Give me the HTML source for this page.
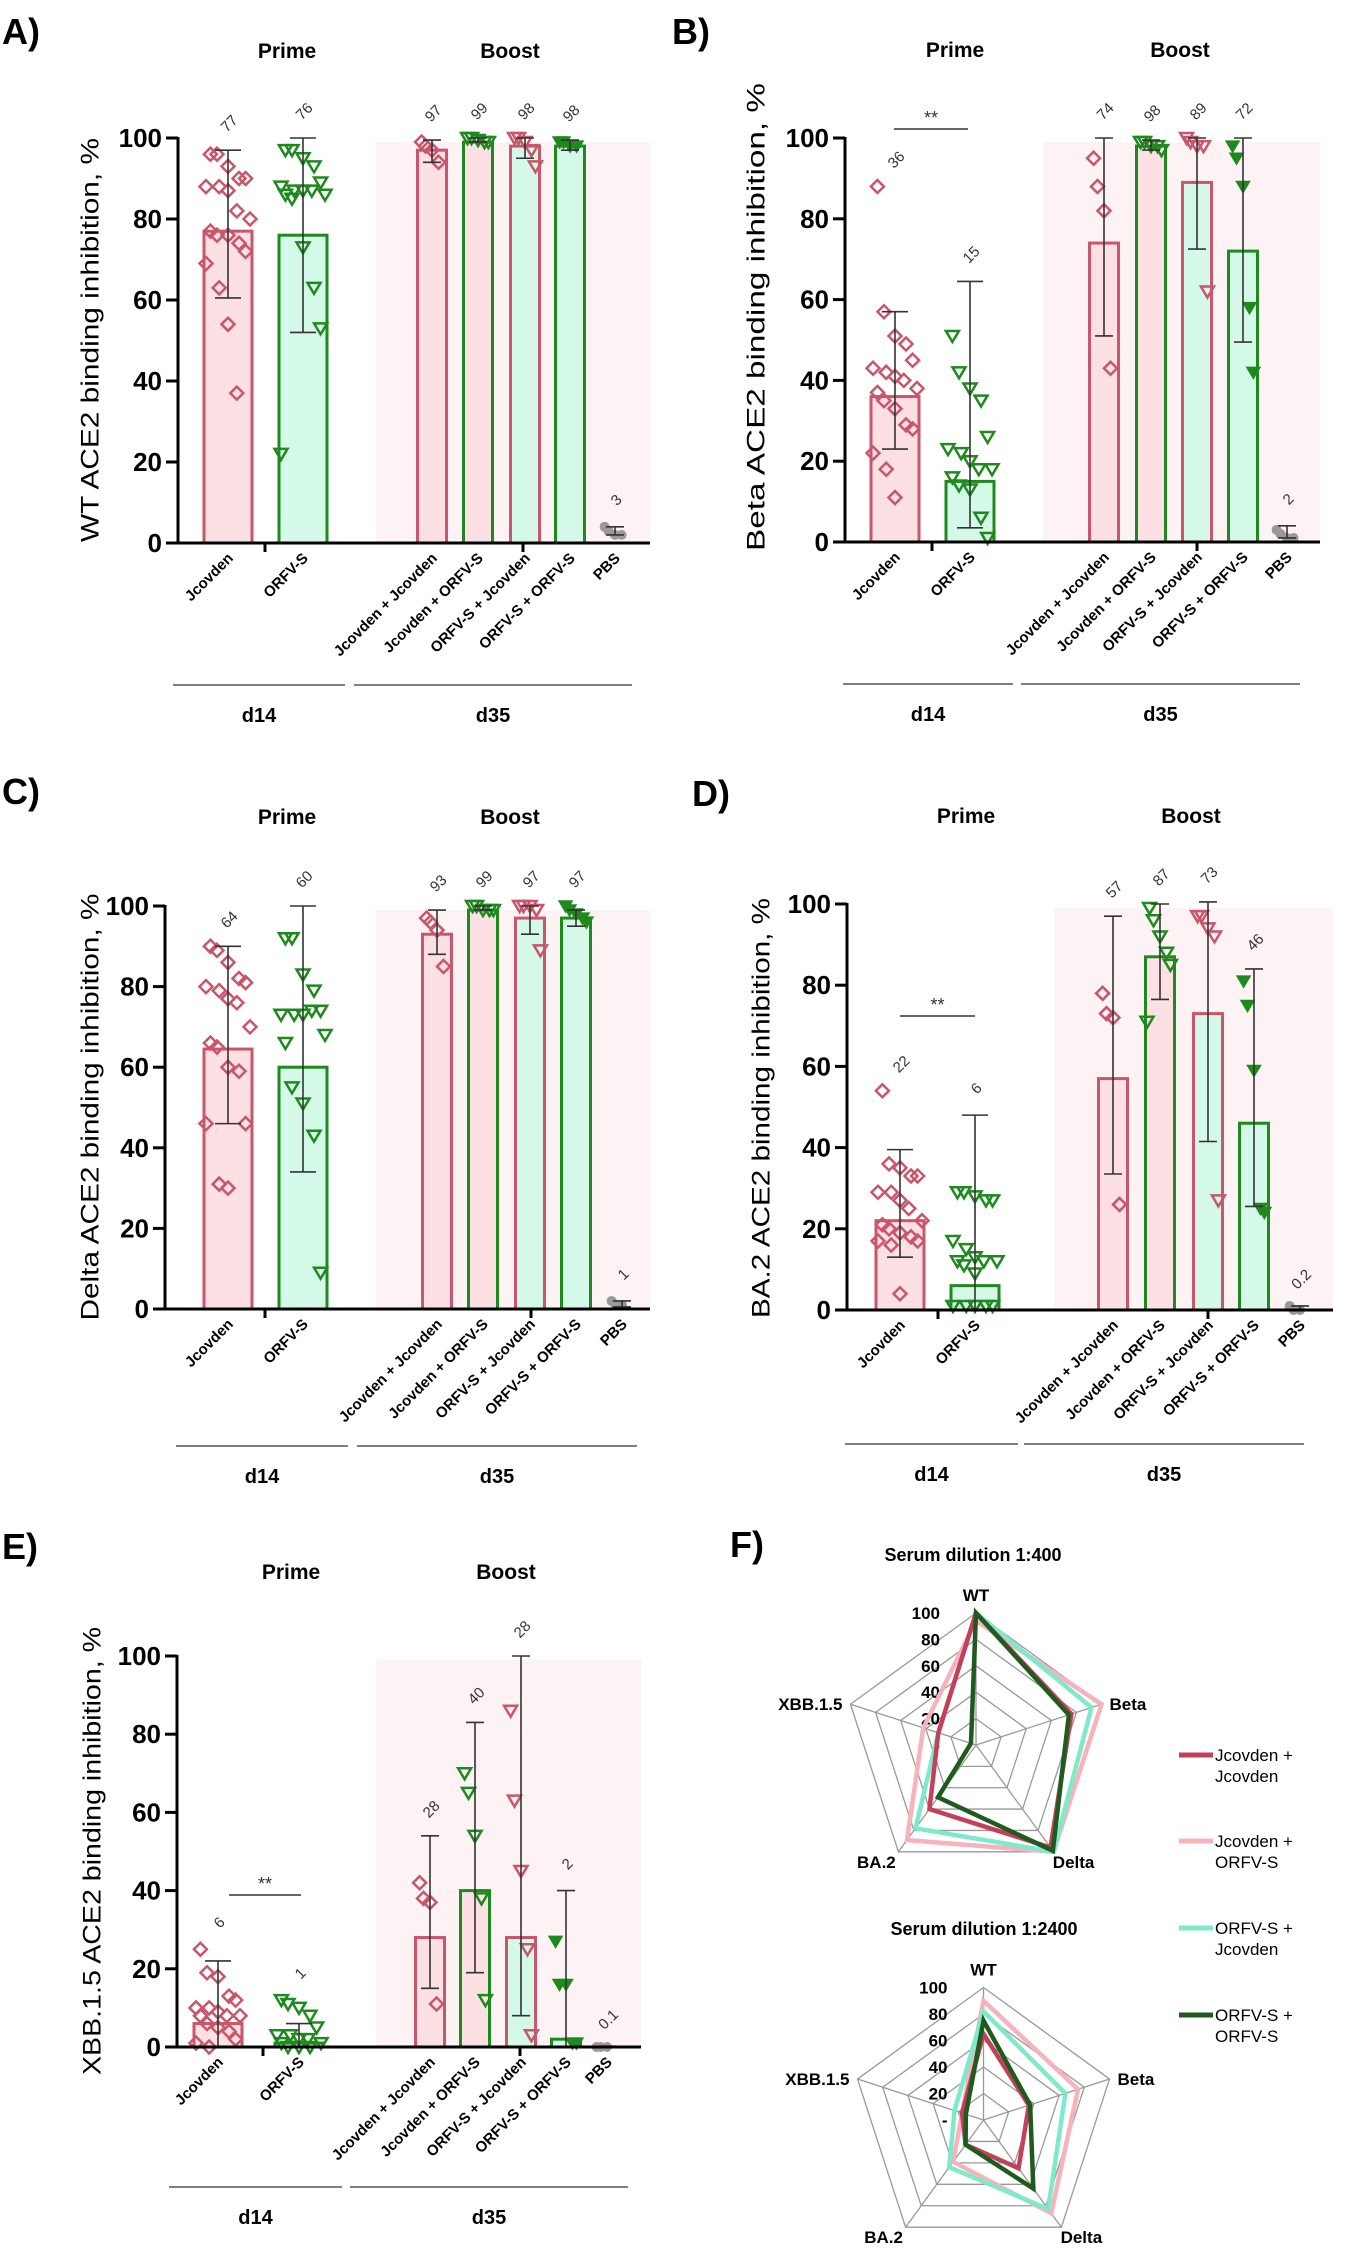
<!DOCTYPE html>
<html><head><meta charset="utf-8">
<style>
html,body{margin:0;padding:0;background:#fff;}
svg{display:block;font-family:"Liberation Sans",sans-serif;}
</style></head>
<body>
<svg id="fig" width="1347" height="2248" viewBox="0 0 1347 2248" xmlns="http://www.w3.org/2000/svg">
<rect width="1347" height="2248" fill="#fff"/>
</svg>
<script>
// ---------- categories ----------
const categories = ["Jcovden","ORFV-S","Jcovden + Jcovden","Jcovden + ORFV-S","ORFV-S + Jcovden","ORFV-S + ORFV-S","PBS"];

// ---------- Panel A (WT) ----------
const A_means = [77,76,97,99,98,98,3];
const A_errLo = [60.5,52,94,99,95,97,2];
const A_errHi = [97,100,99.5,100,100,99.5,4];
const A_labels = ["77","76","97","99","98","98","3"];
const A_points = [
 [96,96,93,90,90,88,88,87,82,80,77,76,76,74,72,69,63,54,37],
 [97,97,95,93,89,88,87,87,87,86,86,85,73,63,53,22],
 [99,98,97,94],[100,100,99.5,99,99],[100,100,99,97,93],[99,99,98,98],[4,3,2,2]];

// ---------- Panel B (Beta) ----------
const B_means = [36,15,74,98,89,72,2];
const B_errLo = [23,3.5,51,97,72.5,49.5,1];
const B_errHi = [57,64.5,100,99.5,100,100,4];
const B_labels = ["36","15","74","98","89","72","2"];
const B_points = [
 [88,57,51,49,45,43,42,41,40,38,37,35,33,29,28,22,18,11],
 [51,42,38,35,26,23,22,20,18,18,16,14,13,6,1],
 [95,88,82,43],[99,99,98,98,97],[100,99,98,98,62],[98,95,88,58,42],[3,2,1,1]];

// ---------- Panel C (Delta) ----------
const C_means = [64.5,60,93,99,97,97,1];
const C_errLo = [46,34,88,99,93,95,0.5];
const C_errHi = [90,100,99,100,100,99,2];
const C_labels = ["64","60","93","99","97","97","1"];
const C_points = [
 [90,89,86,82,81,80,79,77,76,70,66,65,60,59,46,46,31,30],
 [92,92,83,79,74,73,73,73,74,68,66,55,51,43,9],
 [97,96,94,85],[100,100,99,99,99],[100,100,100,99,89],[100,99,98,97,96],[2,1,1]];

// ---------- Panel D (BA.2) ----------
const D_means = [22,6,57,87,73,46,0.2];
const D_errLo = [13,0,33.5,76.5,41.5,25.5,0];
const D_errHi = [39.5,48,97,100,100.5,84,1];
const D_labels = ["22","6","57","87","73","46","0.2"];
const D_points = [
 [54,36,35,33,33,29,29,27,25,22,21,20,19,18,17,17,16,4],
 [29,29,28,27,27,17,15,13,12,12,12,11,9,1,1,1,1,1],
 [78,73,72,26],[99,96,92,88,85,71],[97,97,94,92,27],[81,75,59,25,24],[1,0,0]];

// ---------- Panel E (XBB.1.5) ----------
const E_means = [6,1,28,40,28,2,0.1];
const E_errLo = [0,0,15,19,8,0,0];
const E_errHi = [22,6,54,83,100,40,0.2];
const E_labels = ["6","1","28","40","28","2","0.1"];
const E_points = [
 [25,19,18,13,12,10,10,9,8,8,8,6,5,4,2,1,0],
 [12,11,10,8,5,3,3,2,2,1,1,0,0,0],
 [42,38,37,11],[70,65,54,38,12],[86,63,45,25,3],[27,16,16,1,1],[0,0,0]];

// ---------- Radar (F) ----------
const radarAxes = ["WT","Beta","Delta","BA.2","XBB.1.5"];
const radarTicks = ["100","80","60","40","20","-"];
const seriesNames = ["Jcovden + Jcovden","Jcovden + ORFV-S","ORFV-S + Jcovden","ORFV-S + ORFV-S"];
const r1_JJ = [100,76,96,60,30];
const r1_JO = [94,100,100,89,42];
const r1_OJ = [100,92,100,78,30];
const r1_OO = [100,74,99,49,4];
const r2_JJ = [65,36,45,23,17];
const r2_JO = [90,75,87,39,17];
const r2_OJ = [82,65,83,44,23];
const r2_OO = [75,37,64,23,14];

const NS = "http://www.w3.org/2000/svg";
const svg = document.getElementById("fig");
function mk(tag, attrs, parent, text){
  const e = document.createElementNS(NS, tag);
  for (const k in attrs) e.setAttribute(k, attrs[k]);
  if (text !== undefined) e.textContent = text;
  (parent||svg).appendChild(e);
  return e;
}
const PINK="#c9566b", PINKF="#fde0e3", GREEN="#1e8a1e", MINT="#d4f9e8", BG="#fdf2f4";
const barStroke=[PINK,GREEN,PINK,GREEN,PINK,GREEN,"#999"];
const barFill=[PINKF,MINT,PINKF,PINKF,MINT,MINT,"none"];
const markType=["diamond","tri","diamond","tri","tri","trifill","circle"];
const markColor=[PINK,GREEN,PINK,GREEN,PINK,GREEN,"#999"];

const panels = [
 {id:"a", letter:"A)", lx:2, ly:44, axisX:178, right:650, y100:138, y0:543, centers:[228,303,432,478,525,570,615], bg:376, pt:287, bt:510, tY:58, ytX:92, ytY:340, ytLen:404, ytitle:"WT ACE2 binding inhibition, %", d14:[173,345], d35:[354,632], lineY:685, ticks:[265,523], m:A_means, lo:A_errLo, hi:A_errHi, lab:A_labels, pts:A_points, sig:null},
 {id:"b", letter:"B)", lx:672, ly:44, axisX:845, right:1320, y100:138, y0:542, centers:[895,970,1104,1151,1197,1243,1287], bg:1043, pt:955, bt:1180, tY:57, ytX:758, ytY:317, ytLen:468, ytitle:"Beta ACE2 binding inhibition, %", d14:[843,1013], d35:[1021,1300], lineY:684, ticks:[932,1197], m:B_means, lo:B_errLo, hi:B_errHi, lab:B_labels, pts:B_points, sig:[894,968,129]},
 {id:"c", letter:"C)", lx:2, ly:804, axisX:165, right:650, y100:906, y0:1309, centers:[228,303,437,483,530,576,622], bg:376, pt:287, bt:510, tY:824, ytX:92, ytY:1107, ytLen:427, ytitle:"Delta ACE2 binding inhibition, %", d14:[176,348], d35:[357,637], lineY:1446, ticks:[265,531], m:C_means, lo:C_errLo, hi:C_errHi, lab:C_labels, pts:C_points, sig:null},
 {id:"d", letter:"D)", lx:692, ly:806, axisX:847, right:1333, y100:904, y0:1310, centers:[900,975,1113,1160,1208,1254,1300], bg:1054, pt:966, bt:1191, tY:823, ytX:763, ytY:1108, ytLen:420, ytitle:"BA.2 ACE2 binding inhibition, %", d14:[845,1018], d35:[1024,1304], lineY:1444, ticks:[938,1208], m:D_means, lo:D_errLo, hi:D_errHi, lab:D_labels, pts:D_points, sig:[900,975,1016]},
 {id:"e", letter:"E)", lx:2, ly:1559, axisX:177, right:641, y100:1656, y0:2047, centers:[218,299,430,475,521,566,607], bg:376, pt:291, bt:506, tY:1579, ytX:94, ytY:1851, ytLen:448, ytitle:"XBB.1.5 ACE2 binding inhibition, %", d14:[169,342], d35:[350,628], lineY:2187, ticks:[263,520], m:E_means, lo:E_errLo, hi:E_errHi, lab:E_labels, pts:E_points, sig:[229,301,1895]}
];

function marker(g, type, x, y, col){
  let e;
  if (type==="diamond") e = mk("path",{d:`M${x} ${y-6.5}L${x+6.5} ${y}L${x} ${y+6.5}L${x-6.5} ${y}Z`,fill:"none",stroke:col,"stroke-width":2.5},g);
  else if (type==="tri") e = mk("path",{d:`M${x-6.5} ${y-5}L${x+6.5} ${y-5}L${x} ${y+6}Z`,fill:"none",stroke:col,"stroke-width":2.5},g);
  else if (type==="trifill") e = mk("path",{d:`M${x-6.5} ${y-5}L${x+6.5} ${y-5}L${x} ${y+6}Z`,fill:col,stroke:col,"stroke-width":1.5},g);
  else e = mk("circle",{cx:x,cy:y,r:5,fill:col},g);
  
  
}

panels.forEach(p=>{
  const g = mk("g",{});
  
  
  const ys = v => p.y0 - v/100*(p.y0-p.y100);
  let t;
  t = mk("text",{x:p.lx,y:p.ly,"font-size":36,"font-weight":"bold"},g,p.letter);
  
  
  t = mk("rect",{x:p.bg,y:ys(99),width:p.right-p.bg,height:ys(0)-ys(99),fill:BG},g);
  
  
  t = mk("text",{x:p.pt,y:p.tY,"font-size":21,"font-weight":"bold","text-anchor":"middle"},g,"Prime");
  
  
  t = mk("text",{x:p.bt,y:p.tY,"font-size":21,"font-weight":"bold","text-anchor":"middle"},g,"Boost");
  
  
  t = mk("text",{x:0,y:0,"font-size":25,"text-anchor":"middle","dominant-baseline":"middle",textLength:p.ytLen,lengthAdjust:"spacingAndGlyphs",transform:`translate(${p.ytX},${p.ytY}) rotate(-90)`},g,p.ytitle);
  
  
  // y axis
  t = mk("line",{x1:p.axisX,y1:ys(100)-1,x2:p.axisX,y2:p.y0+1.5,stroke:"#000","stroke-width":3},g);
  
  
  [0,20,40,60,80,100].forEach(v=>{
    const tk = mk("line",{x1:p.axisX-12,y1:ys(v),x2:p.axisX,y2:ys(v),stroke:"#000","stroke-width":3},g);
    
    
    const tl = mk("text",{x:p.axisX-16,y:ys(v)+9,"font-size":26,"font-weight":"bold","text-anchor":"end"},g,String(v));
    
    
  });
  // bars
  categories.forEach((c,i)=>{
    const cx = p.centers[i];
    const w = i<2 ? 48 : 29;
    if (i<6){
      const b = mk("rect",{x:cx-w/2,y:ys(p.m[i]),width:w,height:Math.max(0,p.y0-ys(p.m[i])),fill:barFill[i],stroke:barStroke[i],"stroke-width":3},g);
      
      
    }
    const pts = p.pts[i];
    const spread = i<2 ? 11 : 6.5;
    pts.forEach((v,j)=>{
      const off = ((j%5)-2)*spread*(j%2?1:0.8);
      marker(g, markType[i], cx+off, ys(v), markColor[i]);
    });
    // error bar
    const cw = i<2 ? 13 : 9;
    const eb = mk("path",{d:`M${cx} ${ys(p.lo[i])}V${ys(p.hi[i])}M${cx-cw} ${ys(p.lo[i])}H${cx+cw}M${cx-cw} ${ys(p.hi[i])}H${cx+cw}`,stroke:"#333","stroke-width":1.6,fill:"none"},g);
    
    
    const top = Math.max(p.hi[i], ...pts);
    const vl = mk("text",{x:0,y:0,"font-size":15,fill:"#333","text-anchor":"middle","dominant-baseline":"middle",transform:`translate(${cx+2},${ys(top)-26}) rotate(-45)`},g,p.lab[i]);
    
    
    const cl = mk("text",{x:0,y:0,"font-size":15,"font-weight":"bold","text-anchor":"end",transform:`translate(${cx+6},${p.y0+16}) rotate(-45)`},g,c);
    
    
  });
  // x axis
  t = mk("line",{x1:p.axisX-1.5,y1:p.y0,x2:p.right,y2:p.y0,stroke:"#000","stroke-width":3},g);
  
  
  p.ticks.forEach(x=>{
    const tk = mk("line",{x1:x,y1:p.y0,x2:x,y2:p.y0+9,stroke:"#000","stroke-width":3},g);
    
    
  });
  // group lines
  t = mk("line",{x1:p.d14[0],y1:p.lineY,x2:p.d14[1],y2:p.lineY,stroke:"#333","stroke-width":1.2},g);
  
  
  t = mk("line",{x1:p.d35[0],y1:p.lineY,x2:p.d35[1],y2:p.lineY,stroke:"#333","stroke-width":1.2},g);
  
  
  t = mk("text",{x:(p.d14[0]+p.d14[1])/2,y:p.lineY+37,"font-size":20,"font-weight":"bold","text-anchor":"middle"},g,"d14");
  
  
  t = mk("text",{x:(p.d35[0]+p.d35[1])/2,y:p.lineY+37,"font-size":20,"font-weight":"bold","text-anchor":"middle"},g,"d35");
  
  
  if (p.sig){
    t = mk("line",{x1:p.sig[0],y1:p.sig[2],x2:p.sig[1],y2:p.sig[2],stroke:"#333","stroke-width":1.5},g);
    
    
    t = mk("text",{x:(p.sig[0]+p.sig[1])/2,y:p.sig[2]-5,"font-size":18,"text-anchor":"middle",fill:"#333"},g,"**");
    
    
  }
});

// ---------- Radar charts ----------
let ft = mk("text",{x:730,y:1557,"font-size":36,"font-weight":"bold"},svg,"F)");



const radars = [
 {cx:976, cy:1745, R:132, title:"Serum dilution 1:400", tx:973, ty:1561, data:[r1_JO,r1_OJ,r1_JJ,r1_OO]},
 {cx:983.5, cy:2120, R:132.5, title:"Serum dilution 1:2400", tx:984, ty:1935, data:[r2_JO,r2_OJ,r2_JJ,r2_OO]}
];
const seriesColors = ["#f6b3ba","#7eeacb","#c43f5a","#1f5a1f"];
const drawOrderNames = [seriesNames[1],seriesNames[2],seriesNames[0],seriesNames[3]];
const ang = k => (-90 + 72*k) * Math.PI/180;
radars.forEach((r,ri)=>{
  const g = mk("g",{});
  
  
  const pt = (k,v)=>[r.cx + r.R*v/100*Math.cos(ang(k)), r.cy + r.R*v/100*Math.sin(ang(k))];
  let t = mk("text",{x:r.tx,y:r.ty,"font-size":18,"font-weight":"bold","text-anchor":"middle"},g,r.title);
  
  
  [20,40,60,80,100].forEach(v=>{
    const d = radarAxes.map((a,k)=>pt(k,v).join(",")).join(" ");
    const ring = mk("polygon",{points:d,fill:"none",stroke:"#999","stroke-width":1.3},g);
    
    
  });
  radarAxes.forEach((a,k)=>{
    const [x,y] = pt(k,100);
    const sp = mk("line",{x1:r.cx,y1:r.cy,x2:x,y2:y,stroke:"#999","stroke-width":1.3},g);
    
    
    const [lx,ly] = pt(k,100);
    let ax=lx, ay=ly, anchor="middle";
    if (k===0){ ay-=12; }
    else if (k===1){ ax+=8; ay+=6; anchor="start"; }
    else if (k===4){ ax-=8; ay+=6; anchor="end"; }
    else { ay+=16; ax += (k===2? 20 : -22); }
    const al = mk("text",{x:ax,y:ay,"font-size":17,"font-weight":"bold","text-anchor":anchor},g,a);
    
    
  });
  radarTicks.forEach((tk,i)=>{
    const v = 100 - i*20;
    const tl = mk("text",{x:r.cx-36,y:r.cy - r.R*v/100 + 6,"font-size":17,"font-weight":"bold","text-anchor":"end"},g,tk);
    
    
  });
  r.data.forEach((vals,si)=>{
    const d = vals.map((v,k)=>pt(k,v).join(",")).join(" ");
    const pl = mk("polygon",{points:d,fill:"none",stroke:seriesColors[si],"stroke-width":4.5,"stroke-linejoin":"miter"},g);
    
    
  });
});

// legend
const legendColors = ["#c43f5a","#f6b3ba","#7eeacb","#1f5a1f"];
const legendY = [1755,1841,1928,2015];
seriesNames.forEach((n,i)=>{
  const g = mk("g",{});
  
  
  mk("line",{x1:1179,y1:legendY[i],x2:1213,y2:legendY[i],stroke:legendColors[i],"stroke-width":5},g);
  const parts = n.split(" + ");
  mk("text",{x:1215,y:legendY[i]+6,"font-size":17},g,parts[0]+" +");
  mk("text",{x:1215,y:legendY[i]+27,"font-size":17},g,parts[1]);
});
</script>
</body></html>
